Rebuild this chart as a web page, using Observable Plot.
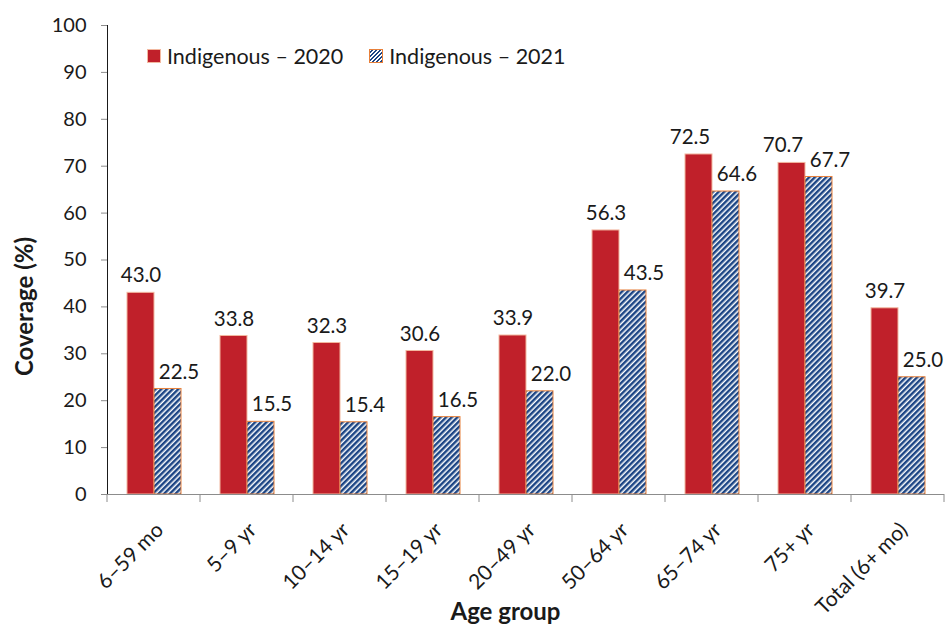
<!DOCTYPE html>
<html><head><meta charset="utf-8">
<script src="https://cdn.jsdelivr.net/npm/d3@7"></script>
<script src="https://cdn.jsdelivr.net/npm/@observablehq/plot@0.6"></script>
<style>
body{margin:0;background:#fff;font-family:Lato, sans-serif;}
#wrap{position:relative;width:945px;height:628px;overflow:hidden;}
#legend{position:absolute;left:147px;top:42px;height:28px;display:flex;align-items:center;font-size:21.5px;color:#1a1a1a;font-family:Lato, sans-serif;}
.sw{width:14px;height:14px;display:inline-block;margin-right:6px;box-sizing:border-box;}
.item{display:flex;align-items:center;margin-right:26px;}
#chart g[aria-label^="y-axis"]{color:#8c8c8c;}
#chart g[aria-label^="y-axis"] text{fill:#1a1a1a;}
</style></head>
<body><div id="wrap"><div id="chart"></div><div id="legend"></div></div>
<script>
const categories = ["6–59 mo","5–9 yr","10–14 yr","15–19 yr","20–49 yr","50–64 yr","65–74 yr","75+ yr","Total (6+ mo)"];
const series = ["Indigenous – 2020","Indigenous – 2021"];
const values2020 = [43.0,33.8,32.3,30.6,33.9,56.3,72.5,70.7,39.7];
const values2021 = [22.5,15.5,15.4,16.5,22.0,43.5,64.6,67.7,25.0];
const yTicks = [0,10,20,30,40,50,60,70,80,90,100];
const yTitle = "Coverage (%)";
const xTitle = "Age group";

const rows = categories.flatMap((c,i)=>[
  {category:c, series:series[0], value:values2020[i], other:values2021[i]},
  {category:c, series:series[1], value:values2021[i], other:values2020[i]}
]);
// red labels whose bar is close in height to its neighbour are nudged left (as in the source)
const crowded = d => d.series===series[0] && d.value - d.other < 10;

const plot = Plot.plot({
  width:945, height:628, marginLeft:107, marginRight:1, marginTop:25, marginBottom:134,
  style:{fontFamily:"Lato, sans-serif", fontSize:"20px", color:"#1a1a1a", background:"#fff", overflow:"visible"},
  facet:{data:rows, x:"category"},
  fx:{domain:categories, padding:0, label:null, tickSize:0, tickRotate:-45, axis:"bottom", tickPadding:32},
  x:{domain:series, axis:null, paddingInner:0, paddingOuter:0.72},
  y:{domain:[0,100], ticks:yTicks, tickSize:6, label:null, line:true, tickPadding:15},
  marks:[
    Plot.barY(rows,{filter:d=>d.series===series[0], x:"series", y:"value", fill:"#c0202a", stroke:"#f2b8a0", strokeWidth:1}),
    Plot.barY(rows,{filter:d=>d.series===series[1], x:"series", y:"value", fill:"url(#hatch)", stroke:"#e8803a", strokeWidth:1}),
    Plot.text(rows,{filter:d=>d.series===series[0] && !crowded(d), x:"series", y:"value", text:d=>d.value.toFixed(1), dy:-17, fontSize:20.5, fill:"#1a1a1a"}),
    Plot.text(rows,{filter:crowded, x:"series", y:"value", text:d=>d.value.toFixed(1), dy:-17, dx:-9, fontSize:20.5, fill:"#1a1a1a"}),
    Plot.text(rows,{filter:d=>d.series===series[1], x:"series", y:"value", text:d=>d.value.toFixed(1), dy:-17, dx:11, fontSize:20.5, fill:"#1a1a1a"}),
    Plot.ruleY([0],{stroke:"#8c8c8c"})
  ]
});

const svg = d3.select(plot.tagName.toLowerCase()==="svg" ? plot : plot.querySelector("svg"));
const defs = svg.insert("defs", ":first-child");
const pat = defs.append("pattern").attr("id","hatch").attr("patternUnits","userSpaceOnUse")
  .attr("width",4).attr("height",4).attr("patternTransform","rotate(45)");
pat.append("rect").attr("width",4).attr("height",4).attr("fill","#ffffff");
pat.append("rect").attr("width",2.5).attr("height",4).attr("fill","#1c4585");

// nudge the rotated category labels slightly right, as in the source
svg.selectAll('g[aria-label^="fx-axis"]').each(function(){
  const g = d3.select(this);
  const t = g.attr("transform") || "";
  g.attr("transform", `translate(6,0) ${t}`);
}).style("font-size","21px");

const fx = plot.scale("fx");
const yS = plot.scale("y");
const y0 = yS.apply(0);
const bounds = categories.map(c=>fx.apply(c)).concat([fx.apply(categories[categories.length-1])+fx.bandwidth]);
svg.append("g").selectAll("line").data(bounds).join("line")
  .attr("x1",d=>d).attr("x2",d=>d).attr("y1",y0).attr("y2",y0+8)
  .attr("stroke","#8c8c8c");

svg.append("text").attr("transform",`translate(33,${(yS.apply(0)+yS.apply(100))/2 + 47}) rotate(-90)`)
  .attr("text-anchor","middle")
  .style("font-weight","bold").style("font-size","24px").attr("fill","#1a1a1a").text(yTitle);
svg.append("text").attr("x",(fx.range[0]+fx.range[1])/2 - 20).attr("y",620)
  .attr("text-anchor","middle")
  .style("font-weight","bold").style("font-size","24px").attr("fill","#1a1a1a").text(xTitle);

document.getElementById("chart").appendChild(plot);

const legend = d3.select("#legend");
const it1 = legend.append("div").attr("class","item");
it1.append("span").attr("class","sw").style("background","#c0202a").style("border","1px solid #f2b8a0");
it1.append("span").text(series[0]);
const it2 = legend.append("div").attr("class","item");
it2.append("span").attr("class","sw").style("background","repeating-linear-gradient(-45deg,#1c4585 0 1.7px,#fff 1.7px 2.9px)").style("border","1px solid #e8803a");
it2.append("span").text(series[1]);
</script>
</body></html>
